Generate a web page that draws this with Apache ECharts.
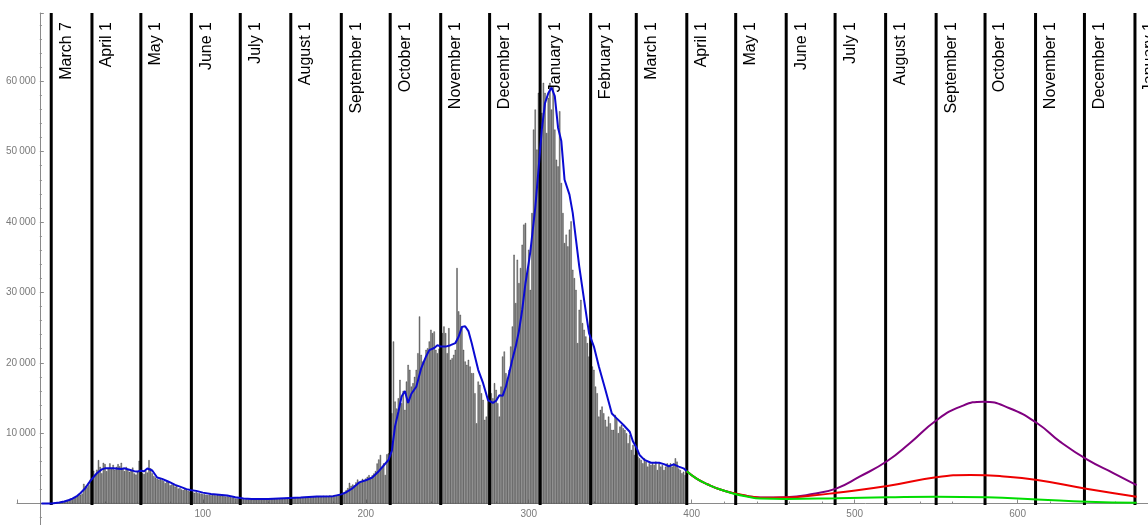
<!DOCTYPE html>
<html>
<head>
<meta charset="utf-8">
<script src="https://cdn.jsdelivr.net/npm/echarts@6/dist/echarts.min.js"></script>
<style>
  html, body { margin: 0; padding: 0; background: #fff; }
  #chart { width: 1148px; height: 525px; }
</style>
</head>
<body>
<div id="chart"></div>
<script>
// Daily new cases, day 1 = March 1 2020
const dailyCases = [
  0,0,10,10,30,40,50,60,90,130,
  160,200,250,330,300,380,450,600,700,650,
  900,950,1100,1300,1250,1400,2800,2500,2300,2600,
  3400,3000,4650,4100,4800,6160,5200,4300,5780,5600,
  4600,5000,5700,4900,5500,4800,5200,5600,5300,5780,
  5000,4600,5200,4800,4500,4700,5100,4270,4100,4500,
  6070,4740,4300,4200,4600,4400,6160,5000,4300,3890,
  3700,3500,3400,3600,3320,3200,2900,3080,3100,2600,
  2700,2840,2400,2500,2130,2200,2000,1900,2100,1950,
  1800,1700,1800,1600,1520,1700,1500,1450,1400,1330,
  1300,1250,1200,1250,1180,1300,1200,1150,1250,1200,
  1100,1150,1050,1000,1040,950,900,850,800,710,
  700,650,620,640,620,600,650,580,600,570,
  620,560,600,650,580,640,600,620,700,660,
  650,700,680,720,660,740,700,760,720,710,
  780,760,800,820,800,850,780,900,830,850,
  880,900,920,870,950,1000,930,1000,980,1040,
  1000,1050,980,1100,1040,1080,1000,1150,1100,1140,
  1200,1150,1250,1300,1330,1500,1600,1900,2200,2940,
  2500,2700,2600,3000,3400,3100,3200,3500,3300,3550,
  3800,4030,3700,4000,4270,4600,5690,6260,6900,5200,
  5700,4060,7000,7140,6500,12830,23030,14490,13500,14960,
  17570,14250,16000,13300,17330,19700,19000,16620,17100,18000,
  18990,21360,26580,21130,20180,20420,21840,22070,23030,24690,
  24210,24450,21840,21360,22000,20890,24210,25160,24210,21360,
  24920,20420,20650,21130,21840,33460,27300,26820,25160,21840,
  20180,19700,20420,19470,18520,18520,15670,11400,17330,16860,
  15670,14730,11880,12350,14730,14010,15670,14960,17100,16150,
  14250,12350,16620,20890,21600,18520,17800,18990,22310,25160,
  35350,28480,34640,31320,33460,36770,39620,39860,32750,36060,
  30350,41280,53130,55980,50290,58350,54080,55500,59770,58350,
  52650,57640,59770,55980,59300,53130,48850,47900,55740,45550,
  41280,37010,38200,36530,38910,40090,33210,32030,30350,22790,
  27530,28940,25630,24690,23740,22790,20890,19470,19470,19000,
  16620,15670,12350,13300,13780,12830,11880,10930,12350,11400,
  10460,10460,12590,12110,10000,10930,11170,10690,10460,9980,
  8560,9740,7610,8320,6900,7000,6660,6420,6190,5710,
  6430,5950,5240,5710,5480,5710,5480,5950,4760,5710,
  5240,5480,4760,5240,5710,5480,5710,5240,5710,6420,
  5950,4980,4760,4290,4520,4050
];

// Seven-day average as [day, value]
const weeklyAverage = [
  [1,0],[7,20],[12,150],[15,300],[18,500],[20,700],[23,1100],[25,1500],[28,2200],[30,2900],
  [32,3500],[35,4300],[38,4850],[40,5000],[45,5000],[50,4900],[52,5000],[55,4800],[58,4600],
  [60,4550],[62,4650],[64,4600],[66,4980],[67,5100],[69,4700],[72,3700],[75,3500],[78,3200],
  [80,3000],[83,2650],[86,2400],[90,2050],[93,1900],[96,1800],[100,1550],[105,1350],[110,1250],
  [115,1150],[120,900],[125,700],[130,650],[140,650],[150,750],[160,850],[170,1000],[180,1050],
  [185,1300],[188,1600],[192,2200],[196,3000],[200,3300],[204,3700],[208,4600],[211,5400],
  [214,6200],[216,7500],[218,11000],[220,13000],[222,15200],[224,16000],[226,14300],[228,15600],
  [231,16600],[234,19200],[237,20900],[239,21800],[242,22100],[244,22500],[246,22300],[249,22300],
  [252,22500],[255,22800],[257,23700],[259,25100],[261,25200],[263,24500],[265,22800],[267,20900],
  [269,19000],[272,17100],[275,14700],[278,14300],[280,14600],[282,15400],[284,15300],[286,16600],
  [288,18500],[290,20500],[292,22300],[294,24500],[296,27500],[298,31300],[300,34200],[301,35800],
  [302,35600],[304,42000],[306,47400],[308,53100],[310,56900],[312,58300],[314,59100],[316,57900],
  [318,53400],[320,51500],[322,46000],[325,43900],[327,41300],[329,37500],[331,33700],[334,28900],
  [337,24200],[340,22300],[343,19500],[347,16200],[351,12800],[354,12100],[358,11200],[362,10200],
  [364,8800],[366,8000],[368,6900],[371,6200],[375,5800],[380,5800],[383,5600],[386,5300],
  [389,5570],[392,5240],[395,5000],[397,4600]
];

// Projections after April 2021
const projectionLow = [
  [397,4600],[403,3550],[410,2700],[418,1950],[426,1400],[434,1000],[442,720],[458,660],
  [489,750],[520,880],[550,960],[581,880],[612,590],[643,270],[673,120]
];
const projectionMid = [
  [397,4600],[403,3550],[410,2700],[418,1950],[426,1450],[434,1080],[442,830],[458,840],
  [474,1130],[489,1540],[520,2490],[550,3730],[571,4050],[590,3880],[612,3340],[643,2060],[673,970]
];
const projectionHigh = [
  [397,4600],[403,3550],[410,2700],[418,1950],[426,1450],[434,1080],[442,840],[458,900],
  [474,1350],[489,2160],[503,3810],[520,6040],[534,8600],[550,11800],[565,13770],[579,14480],
  [595,13540],[612,11410],[626,8790],[643,6190],[659,4300],[673,2630]
];

// Month boundaries (day numbers) and their captions
const monthLineDays = [7,32,62,93,123,154,185,215,246,276,307,338,366,397,427,458,488,519,550,580,611,641,672];
const monthLineLabels = ['March 7','April 1','May 1','June 1','July 1','August 1','September 1',
  'October 1','November 1','December 1','January 1','February 1','March 1','April 1','May 1',
  'June 1','July 1','August 1','September 1','October 1','November 1','December 1','January 1'];

// Plot frame
const WIDTH = 1148, HEIGHT = 525;
const GRID = { left: 17, right: 0, top: 13, bottom: 0 };
const X_MIN = -14, X_MAX = 680;
const Y_MIN = -3050, Y_MAX = 69700;
const AXIS_GRAY = '#8a8a8a';

// Axes cross at the origin: shift each axis from the grid edge to zero
const plotW = WIDTH - GRID.left - GRID.right;
const plotH = HEIGHT - GRID.top - GRID.bottom;
const yAxisShift = plotW * (0 - X_MIN) / (X_MAX - X_MIN);
const xAxisShift = plotH * (0 - Y_MIN) / (Y_MAX - Y_MIN);

function groupThousands(v) {
  if (v === 0) return '';
  return String(v).replace(/\B(?=(\d{3})+(?!\d))/g, '\u2009');
}

const chart = echarts.init(document.getElementById('chart'), null, { renderer: 'canvas' });

chart.setOption({
  animation: false,
  backgroundColor: '#ffffff',
  grid: Object.assign({ containLabel: false, outerBoundsMode: 'none' }, GRID),
  xAxis: {
    type: 'value',
    position: 'bottom',
    offset: -xAxisShift,
    min: X_MIN,
    max: X_MAX,
    splitNumber: 7,
    axisLine: { onZero: false, lineStyle: { color: AXIS_GRAY, width: 1 } },
    axisTick: { show: true, inside: true, length: 4, lineStyle: { color: AXIS_GRAY } },
    minorTick: { show: true, splitNumber: 5, length: 2, lineStyle: { color: AXIS_GRAY } },
    axisLabel: {
      showMinLabel: false, showMaxLabel: false,
      color: '#7a7a7a', fontSize: 10, fontFamily: 'Liberation Sans', margin: 6,
      formatter: groupThousands
    },
    splitLine: { show: false }
  },
  yAxis: {
    type: 'value',
    position: 'left',
    offset: -yAxisShift,
    min: Y_MIN,
    max: Y_MAX,
    splitNumber: 7,
    axisLine: { onZero: false, lineStyle: { color: AXIS_GRAY, width: 1 } },
    axisTick: { show: true, inside: true, length: 4, lineStyle: { color: AXIS_GRAY } },
    minorTick: { show: true, splitNumber: 5, length: 2, lineStyle: { color: AXIS_GRAY } },
    axisLabel: {
      showMinLabel: false, showMaxLabel: false,
      color: '#7a7a7a', fontSize: 10, fontFamily: 'Liberation Sans', margin: 4,
      formatter: groupThousands
    },
    splitLine: { show: false }
  },
  series: [
    {
      type: 'bar',
      data: dailyCases.map((v, i) => [i + 1, v]),
      barWidth: 1.3,
      itemStyle: { color: '#8a8a8a', borderColor: '#1e1e1e', borderWidth: 0.35 },
      z: 1
    },
    {
      type: 'custom',
      data: monthLineDays.map(d => [d, 0]),
      clip: false,
      z: 2,
      renderItem: function (params, api) {
        const day = api.value(0);
        const top = api.coord([day, Y_MAX]);
        const base = api.coord([day, 0]);
        return {
          type: 'group',
          children: [
            {
              type: 'line',
              shape: { x1: top[0], y1: top[1], x2: base[0], y2: base[1] + 1.5 },
              style: { stroke: '#000', lineWidth: 3 }
            },
            {
              type: 'text',
              x: top[0] + 15,
              y: top[1] + 9,
              rotation: Math.PI / 2,
              style: {
                text: monthLineLabels[params.dataIndex],
                fill: '#000',
                font: '16px "Liberation Sans", Arial, sans-serif',
                align: 'right',
                verticalAlign: 'middle'
              }
            }
          ]
        };
      }
    },
    {
      type: 'line',
      data: weeklyAverage,
      showSymbol: false,
      lineStyle: { color: '#0a0ad2', width: 2 },
      z: 3
    },
    {
      type: 'line',
      data: projectionHigh,
      smooth: 0.5,
      showSymbol: false,
      lineStyle: { color: '#800080', width: 2 },
      z: 3
    },
    {
      type: 'line',
      data: projectionMid,
      smooth: 0.5,
      showSymbol: false,
      lineStyle: { color: '#ee0000', width: 2 },
      z: 3
    },
    {
      type: 'line',
      data: projectionLow,
      smooth: 0.5,
      showSymbol: false,
      lineStyle: { color: '#00dd00', width: 2 },
      z: 3
    }
  ]
});
</script>
</body>
</html>
